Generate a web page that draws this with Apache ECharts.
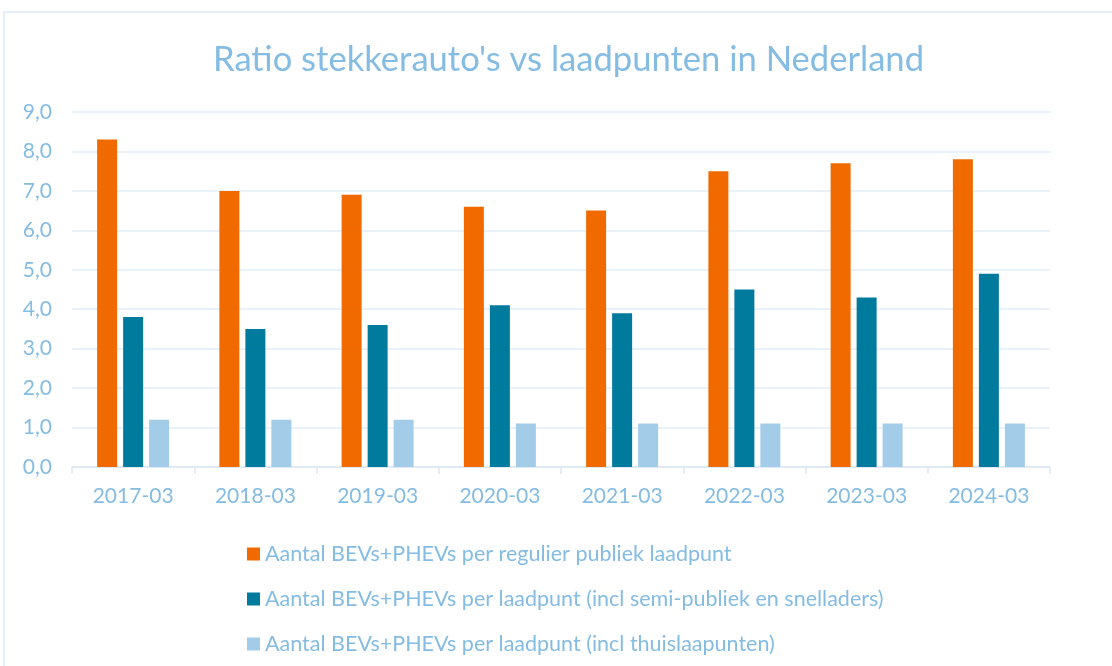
<!DOCTYPE html>
<html>
<head>
    <meta charset="utf-8">
    <title>Ratio stekkerauto's vs laadpunten</title>
    <script src="https://cdn.jsdelivr.net/npm/echarts@6/dist/echarts.min.js"></script>
    <style>
        html, body { margin: 0; padding: 0; background: #fff; }
        #chart { width: 1112px; height: 666px; }
    </style>
</head>
<body>
    <div id="chart"></div>
    <script>
        // 数据
        const categories = ['2017-03', '2018-03', '2019-03', '2020-03', '2021-03', '2022-03', '2023-03', '2024-03'];
        const regulierPubliek = [8.3, 7.0, 6.9, 6.6, 6.5, 7.5, 7.7, 7.8];
        const inclSemiPubliek = [3.8, 3.5, 3.6, 4.1, 3.9, 4.5, 4.3, 4.9];
        const inclThuis = [1.2, 1.2, 1.2, 1.1, 1.1, 1.1, 1.1, 1.1];
        const seriesNames = [
            'Aantal BEVs+PHEVs per regulier publiek laadpunt',
            'Aantal BEVs+PHEVs per laadpunt (incl semi-publiek en snelladers)',
            'Aantal BEVs+PHEVs per laadpunt (incl thuislaapunten)'
        ];
        const colors = ['#F06A00', '#007B9E', '#A3CCE9'];

        const textColor = '#84BCE3';
        const font = 'Lato';

        const chart = echarts.init(document.getElementById('chart'));

        const option = {
            animation: false,
            color: colors,
            textStyle: { fontFamily: font },
            graphic: [{
                type: 'rect',
                shape: { x: 4, y: 12, width: 1200, height: 700 },
                style: { fill: 'none', stroke: '#DDEAF5', lineWidth: 1.5 }
            }],
            title: {
                text: "Ratio stekkerauto's vs laadpunten in Nederland",
                left: 208,
                top: 37,
                textStyle: { color: textColor, fontSize: 34.6, fontWeight: 'normal', fontFamily: font }
            },
            legend: {
                orient: 'vertical',
                left: 242,
                top: 538,
                itemWidth: 13,
                itemHeight: 13,
                itemGap: 23,
                icon: 'rect',
                textStyle: { color: textColor, fontSize: 21.5, lineHeight: 22, fontFamily: font, padding: [0, 0, 0, 0] },
                data: seriesNames
            },
            grid: { left: 72, right: 62, top: 112, bottom: 199 },
            xAxis: {
                type: 'category',
                data: categories,
                axisLine: { lineStyle: { color: '#DCE8F3', width: 1.5 } },
                axisTick: { show: true, length: 7, lineStyle: { color: '#DCE8F3', width: 1.5 } },
                axisLabel: { color: textColor, fontSize: 21, margin: 19 }
            },
            yAxis: {
                type: 'value',
                min: 0,
                max: 9,
                interval: 1,
                axisLine: { show: false },
                axisTick: { show: false },
                axisLabel: {
                    color: textColor,
                    fontSize: 21,
                    margin: 20,
                    formatter: v => v.toFixed(1).replace('.', ',')
                },
                splitLine: { lineStyle: { color: '#E3EEF7', width: 1.5 } }
            },
            series: [
                { name: seriesNames[0], type: 'bar', data: regulierPubliek, barWidth: 20, barGap: '30%' },
                { name: seriesNames[1], type: 'bar', data: inclSemiPubliek, barWidth: 20, barGap: '30%' },
                { name: seriesNames[2], type: 'bar', data: inclThuis, barWidth: 20, barGap: '30%' }
            ]
        };

        chart.setOption(option);
    </script>
</body>
</html>
